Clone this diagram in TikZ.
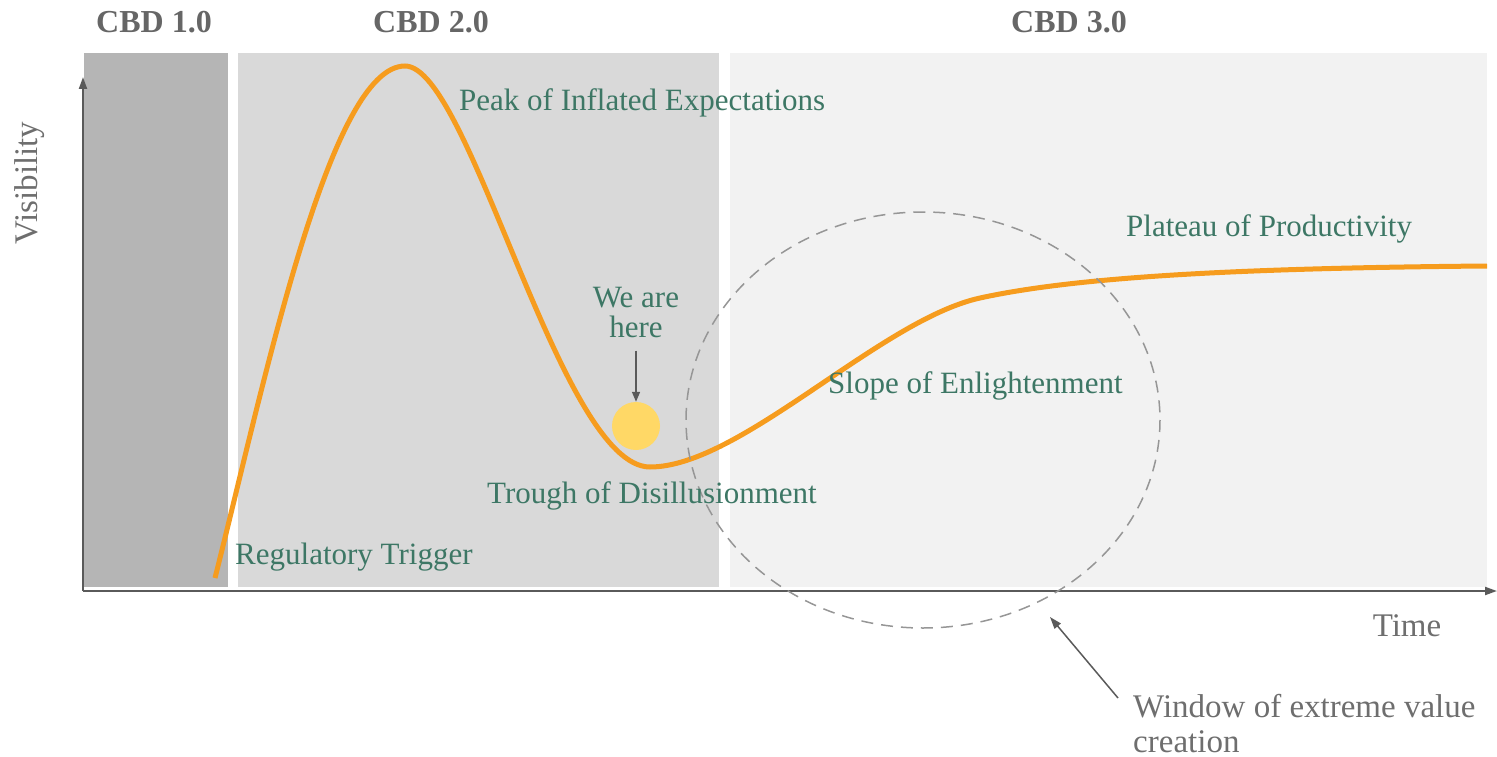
\documentclass[tikz,border=0pt]{standalone}
\usepackage{fontspec}
\setmainfont{Liberation Serif}
\usetikzlibrary{arrows.meta}
\definecolor{hypeorange}{HTML}{F69C1E}
\definecolor{stagegreen}{HTML}{3D7765}
\definecolor{headgray}{HTML}{666666}
\definecolor{notegray}{HTML}{6E6E6E}
\definecolor{axisgray}{HTML}{5A5A5A}
\definecolor{dotyellow}{HTML}{FFD866}
\begin{document}
\begin{tikzpicture}[x=1pt,y=-1pt,
    phase/.style={font=\fontsize{32}{32}\selectfont\bfseries,text=headgray,inner sep=0pt},
    stage/.style={font=\fontsize{31}{30}\selectfont,text=stagegreen,inner sep=0pt},
    note/.style={font=\fontsize{33}{35}\selectfont,text=notegray,inner sep=0pt},
    axis/.style={draw=axisgray,line width=2pt,-{Triangle[length=12pt,width=8pt]}}]
  \useasboundingbox (0,0) rectangle (1497,757);
  % the three CBD bands
  \fill [fill={rgb,255:red,181;green,181;blue,181}] (84,53) rectangle (228,587);
  \fill [fill={rgb,255:red,217;green,217;blue,217}] (238,53) rectangle (719,587);
  \fill [fill={rgb,255:red,242;green,242;blue,242}] (730,53) rectangle (1487,587);
  \node [phase] (cbd1) at (154,22) {CBD 1.0};
  \node [phase] (cbd2) at (431,22) {CBD 2.0};
  \node [phase] (cbd3) at (1069,22) {CBD 3.0};
  % axes
  \coordinate (origin) at (83,591);
  \coordinate (ytip) at (83,77);
  \coordinate (xtip) at (1497,591);
  \draw [axis] (origin) -- (ytip);
  \draw [axis] (origin) -- (xtip);
  \node [note,rotate=90] (vis) at (30,183) {Visibility};
  \node [note] (time) at (1407,626) {Time};
  % hype curve
  \draw [hypeorange,line width=5pt] (215,578)
    .. controls (265,380) and (330,66) .. (405,66)
    .. controls (470,66) and (560,467) .. (650,467)
    .. controls (740,467) and (880,320) .. (980,298)
    .. controls (1080,276) and (1250,268) .. (1487,266);
  % window
  \draw [dashed,dash pattern=on 12pt off 8pt,line width=1.5pt,draw={rgb,255:red,150;green,150;blue,150}]
    (923,420) ellipse [x radius=237,y radius=208];
  \node [stage,anchor=west] (peak) at (459,103) {Peak of Inflated Expectations};
  \node [stage,anchor=west] (trigger) at (235,557) {Regulatory Trigger};
  \node [stage,anchor=west] (trough) at (487,496) {Trough of Disillusionment};
  \node [stage,anchor=west] (slope) at (828,386) {Slope of Enlightenment};
  \node [stage,anchor=west] (plateau) at (1126,229) {Plateau of Productivity};
  \node [stage,align=center] (here) at (636,313) {We are\\here};
  \node [circle,fill=dotyellow,minimum size=48pt,inner sep=0pt] (dot) at (636,426) {};
  \draw [axisgray,line width=1.5pt,-{Triangle[length=10pt,width=8pt]}] ([yshift=-12pt]here.south) -- (dot.north);
  \node [note,align=left,anchor=north west] (window) at (1133,694) {Window of extreme value\\creation};
  \coordinate (windowtip) at (1050,617);
  \draw [axisgray,line width=1.5pt,-{Triangle[length=12pt,width=8pt]}] ([xshift=-15pt,yshift=-4pt]window.north west) -- (windowtip);
\end{tikzpicture}
\end{document}
